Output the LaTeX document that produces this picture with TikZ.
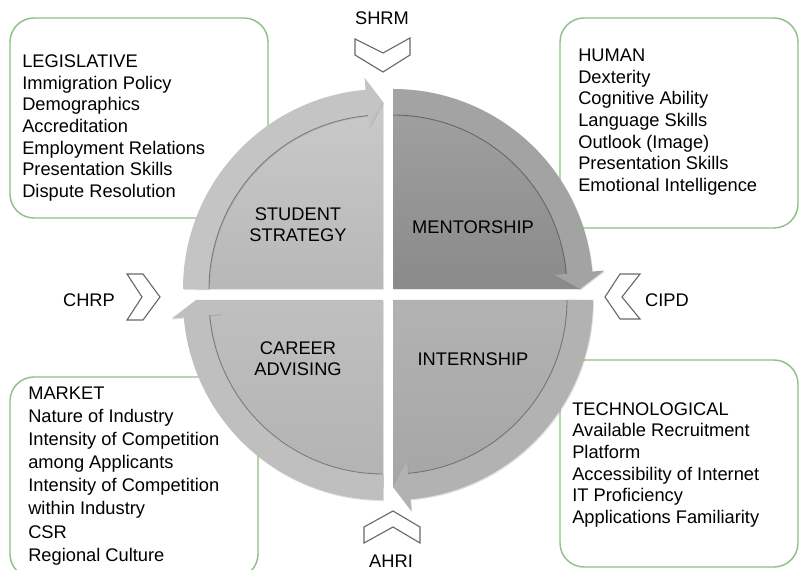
\documentclass[tikz,border=0pt]{standalone}
\usepackage{fontspec}
\setmainfont{Liberation Sans}
\usetikzlibrary{shadows}
\definecolor{boxgreen}{RGB}{140,192,132}
\definecolor{chevgray}{RGB}{105,105,105}
\tikzset{
  factorbox/.style={draw=boxgreen, line width=1pt, rounded corners=0.6cm, fill=white},
  factortext/.style={anchor=west, align=left, inner sep=0pt, font=\fontsize{13}{15.4}\selectfont},
  quadlabel/.style={align=center, inner sep=0pt, font=\fontsize{13}{15}\selectfont},
  bodylabel/.style={inner sep=0pt, font=\fontsize{13}{15}\selectfont},
  chevron/.style={draw=chevgray, line width=0.8pt, fill=white, line join=miter}
}
\newcommand{\cyclepiece}[5]{%
  \begin{scope}[shift={#1}]
    \shade[top color=#3, bottom color=#4, drop shadow={opacity=0.2, shadow xshift=0.6pt, shadow yshift=-0.8pt}] (0,0) -- (#2:187) arc[start angle=#2, end angle=#2-90, radius=187] -- cycle;
    \fill[#5, drop shadow={opacity=0.25, shadow xshift=0.6pt, shadow yshift=-0.8pt}] (#2:200) arc[start angle=#2, end angle=#2-85, radius=200] -- (#2-85:212) -- (#2-90:187) -- (#2-85:162) -- (#2-85:174) arc[start angle=#2-85, end angle=#2, radius=174] -- cycle;
    \draw[black, opacity=0.35, line width=0.6pt] (#2:174) arc[start angle=#2, end angle=#2-85, radius=174];
  \end{scope}}

\begin{document}
\begin{tikzpicture}[x=0.025cm, y=0.025cm]
    \useasboundingbox (0,0) rectangle (800,570);

    \draw[factorbox] (10,352) rectangle (268,552);
    \draw[factorbox] (560,342) rectangle (798,552);
    \draw[factorbox] (10,-8) rectangle (258,193);
    \draw[factorbox] (560,3) rectangle (798,210);

    \node[factortext] (legislative) at (22,442) {LEGISLATIVE\\Immigration Policy\\Demographics\\Accreditation\\Employment Relations\\Presentation Skills\\Dispute Resolution};
    \node[factortext] (human) at (578,448) {HUMAN\\Dexterity\\Cognitive Ability\\Language Skills\\Outlook (Image)\\Presentation Skills\\Emotional Intelligence};
    \node[factortext, font=\fontsize{13}{16.4}\selectfont] (market) at (28,94) {MARKET\\Nature of Industry\\Intensity of Competition\\among Applicants\\Intensity of Competition\\within Industry\\CSR\\Regional Culture};
    \node[factortext] (technological) at (572,105) {TECHNOLOGICAL\\Available Recruitment\\Platform\\Accessibility of Internet\\IT Proficiency\\Applications Familiarity};

    \cyclepiece{(383,281)}{180}{black!21}{black!28}{black!23}
    \cyclepiece{(393,281)}{90}{black!37}{black!46}{black!36}
    \cyclepiece{(393,270)}{0}{black!30}{black!35}{black!30}
    \cyclepiece{(383,270)}{-90}{black!25}{black!30}{black!25}

    \node[quadlabel] (student) at (298,345) {STUDENT\\STRATEGY};
    \node[quadlabel] (mentorship) at (473,343) {MENTORSHIP};
    \node[quadlabel] (career) at (298,211) {CAREER\\ADVISING};
    \node[quadlabel] (internship) at (473,211) {INTERNSHIP};

    \draw[chevron] (355,531) -- (383,517) -- (410,532) -- (410,515) -- (383,498) -- (355,515) -- cycle;
    \draw[chevron] (620,296) -- (640,296) -- (622,273) -- (640,251) -- (620,251) -- (605,273) -- cycle;
    \draw[chevron] (127,296) -- (143,296) -- (160,273) -- (143,250) -- (127,250) -- (142,273) -- cycle;
    \draw[chevron] (393,59) -- (420,43) -- (420,27) -- (393,43) -- (364,27) -- (364,43) -- cycle;

    \node[bodylabel] (shrm) at (382,552) {SHRM};
    \node[bodylabel] (cipd) at (667,270) {CIPD};
    \node[bodylabel] (chrp) at (89,270) {CHRP};
    \node[bodylabel] (ahri) at (391,9) {AHRI};
\end{tikzpicture}
\end{document}
